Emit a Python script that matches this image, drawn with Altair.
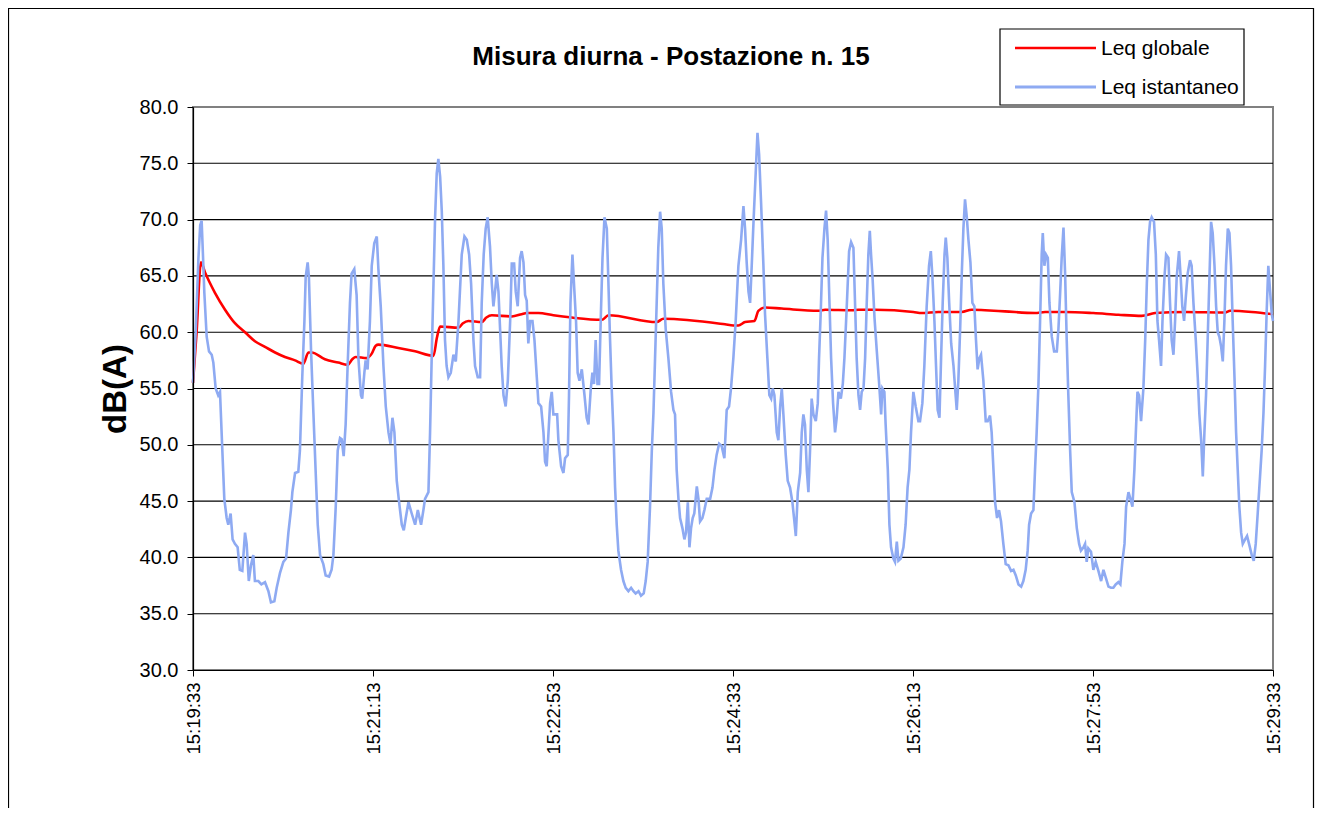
import altair as alt
import pandas as pd

TITLE = "Misura diurna - Postazione n. 15"
Y_TITLE = "dB(A)"
SERIES = ["Leq globale", "Leq istantaneo"]
COLORS = ["#ff0000", "#8eaaf2"]
X_TICKS = [0, 100, 200, 300, 400, 500, 600]
X_LABELS = ["15:19:33", "15:21:13", "15:22:53", "15:24:33", "15:26:13", "15:27:53", "15:29:33"]
Y_TICKS = [30, 35, 40, 45, 50, 55, 60, 65, 70, 75, 80]
GRID = [35, 40, 45, 50, 55, 60, 65, 70, 75]

# Leq istantaneo (seconds from 15:19:33, dB(A))
t_ist = [0, 1.5, 3, 4, 4.8, 5.5, 6.3, 7.6, 8.9, 10.4, 11.3, 12.6, 14, 15, 16.3, 17.4, 18.7, 19.6, 20.9, 22,
         23.3, 24.8, 26, 27.4, 28.9, 29.8, 31, 32.2, 33.5, 34.4, 36.3, 38, 40, 41.9, 43.3, 45.2, 46.5, 48.3, 50.2, 51.7,
         53, 54.4, 55.2, 56.7, 58.5, 59.4, 60.7, 61.9, 62.6, 63.7, 64.4, 65.6, 66.9, 68.1, 69.3, 70.6, 72.4, 73.7, 75.6, 77,
         78, 79.3, 80.4, 81.7, 82.6, 83.7, 84.8, 85.9, 87.2, 88.1, 89.6, 90.9, 91.9, 93.3, 94, 95.2, 95.9, 97, 98.3, 99.3,
         100.7, 102.1, 103, 104.3, 105.8, 107.1, 108.6, 109.7, 110.8, 111.9, 113.2, 114.5, 116, 117.1, 118.2, 119.7, 121.5, 123.4, 124.9, 126.7,
         128, 128.9, 130.8, 131.7, 132.6, 133.6, 134.5, 135.4, 136.3, 137.3, 138.2, 139.1, 140, 140.9, 141.9, 143.2, 144.7, 146, 147.5, 149.3,
         150.8, 152.1, 153.4, 154.5, 155.8, 156.7, 158.2, 159.5, 160.4, 161.5, 162.6, 163.7, 165, 166, 166.9, 167.8, 168.7, 169.7, 170.6, 171.5,
         172.5, 173.7, 174.9, 176.2, 177.1, 178.4, 179.3, 180.4, 181.7, 182.6, 183.6, 184.5, 185.4, 186.3, 187.3, 188.6, 189.7, 191, 191.9, 193.4,
         194.7, 195.6, 196.5, 197.5, 198.4, 199.3, 200.2, 201.5, 202.3, 203, 204.5, 205.8, 206.7, 208.2, 208.9, 209.7, 210.8, 211.9, 212.8, 213.7,
         214.7, 216, 217.5, 218.7, 219.7, 221, 221.9, 222.8, 223.7, 224.7, 225.6, 226.5, 227.5, 228.6, 229.9, 230.8, 231.7, 232.6, 233.6, 234.5,
         235.4, 236.3, 237.8, 239.1, 240.4, 241.9, 243.4, 244.7, 245.9, 247.5, 248.9, 250.4, 251.5, 252.6, 253.9, 254.9, 255.8, 256.7, 257.6, 258.5,
         259.5, 260.4, 261.3, 262.6, 264.1, 265.6, 266.9, 267.8, 268.7, 269.7, 270.6, 271.9, 273, 273.9, 274.9, 275.8, 276.7, 277.6, 278.5, 279.9,
         280.8, 281.7, 283, 284.1, 285.4, 287.3, 288.6, 289.7, 290.9, 292.3, 293.7, 295.2, 296.5, 297.8, 298.9, 300.2, 301.5, 303, 304.5, 305.8,
         306.7, 307.6, 308.6, 309.5, 310.4, 311.5, 312.6, 313.6, 314.5, 315.6, 316.9, 317.8, 319.1, 320.2, 321.2, 322.1, 323, 324.3, 325.2, 326.2,
         327.1, 328, 329.3, 330.4, 331.7, 333, 334.1, 334.9, 336, 337.3, 338.2, 339.1, 340, 341, 341.9, 342.8, 343.7, 344.7, 346, 347.1,
         347.8, 348.7, 349.7, 350.8, 351.7, 352.6, 353.6, 354.5, 355.6, 356.7, 357.6, 358.6, 359.9, 361, 361.9, 363.2, 364.5, 365.6, 366.9, 367.8,
         368.7, 369.7, 370.6, 371.5, 372.5, 373.4, 374.3, 375.2, 376, 376.7, 377.6, 378.6, 379.9, 381.2, 382.3, 383, 384.1, 384.8, 386, 386.9,
         387.8, 389.1, 390, 391, 391.9, 393.2, 394.7, 395.9, 397, 398, 398.9, 400.2, 401.5, 403, 403.9, 405.2, 406.3, 407.6, 408.9, 409.9,
         410.8, 411.9, 412.8, 413.7, 414.7, 415.6, 416.5, 417.5, 418.2, 419.1, 420.1, 421.2, 422.5, 423.4, 424.3, 425.2, 426.2, 427.1, 428, 428.9,
         429.9, 430.8, 431.9, 433, 434.1, 435, 435.9, 436.9, 437.8, 439.1, 440.4, 441.5, 442.8, 443.7, 444.7, 445.6, 446.7, 447.8, 448.9, 450.2,
         451.5, 453, 454.5, 455.8, 457.1, 458.6, 460.1, 461.3, 462.6, 463.7, 464.5, 465.6, 466.9, 467.8, 468.7, 469.7, 470.6, 471.5, 472.1, 473,
         473.9, 474.9, 475.8, 477.1, 478.4, 479.9, 480.8, 481.7, 482.6, 483.6, 484.5, 485.4, 486.3, 487.3, 488.2, 489.7, 491, 492.3, 493.3, 494.7,
         495.6, 496.5, 497.4, 498.9, 500.2, 501.5, 503, 504.5, 505.8, 507.1, 508.6, 510, 511.3, 512.6, 514.1, 515.2, 516.3, 517.5, 518.4, 519.7,
         520.8, 521.9, 523, 523.8, 524.7, 525.6, 526.7, 528, 529, 529.9, 530.8, 531.7, 532.6, 533.9, 534.9, 535.8, 536.7, 537.8, 538.6, 539.7,
         540.6, 541.9, 542.8, 543.7, 544.7, 545.6, 546.5, 547.8, 548.7, 549.6, 550.6, 551.5, 552.6, 553.9, 554.8, 555.8, 557.1, 558.2, 559.1, 560.1,
         561, 561.9, 562.8, 563.7, 564.7, 565.6, 566.5, 567.5, 568.4, 569.3, 570.2, 571.2, 572.1, 573, 573.9, 574.9, 575.8, 576.7, 577.6, 578.6,
         579.5, 580.4, 581.3, 582.3, 583.2, 584.5, 585.6, 586.7, 588.2, 589.3, 590.4, 591.5, 592.8, 593.7, 594.7, 595.6, 596.5, 597.4, 598.4, 599.3,
         600]
v_ist = [55.5, 60, 66.5, 69.5, 69.9, 67, 63.5, 59.6, 58.3, 58, 57.3, 55, 54.4, 54.7, 49.5, 45.2, 43.5, 42.9, 43.9, 41.6,
         41.2, 40.9, 38.9, 38.8, 42.2, 41.2, 37.9, 39.3, 40.2, 37.9, 37.9, 37.6, 37.8, 37, 36, 36.1, 37.3, 38.6, 39.6, 39.9,
         42.2, 44.2, 45.8, 47.5, 47.6, 49.5, 56, 61, 64.9, 66.2, 64.9, 58.3, 52.8, 47.8, 42.9, 40.2, 39.4, 38.4, 38.3, 38.9,
         40.2, 44.5, 49.5, 50.6, 50.5, 49, 51.8, 57, 62.6, 65.2, 65.6, 63.3, 57.7, 54.4, 54.1, 56.4, 57.5, 56.7, 61, 65.9,
         67.9, 68.5, 65.6, 62.3, 57, 53.4, 51.1, 50.1, 52.4, 51.1, 46.8, 44.9, 42.9, 42.4, 43.5, 44.9, 43.9, 42.9, 44.2, 42.9,
         44.2, 45.2, 45.8, 51.1, 57.7, 64.3, 70.2, 74.1, 75.4, 73.8, 70.8, 65.9, 59.3, 57, 56, 56.4, 58, 57.4, 61, 66.9,
         68.5, 68.2, 66.9, 64.3, 59.3, 57, 56, 56, 62.6, 66.9, 69.2, 70.2, 67.6, 64.3, 62.3, 63.6, 65.1, 63.6, 60.3, 57,
         54.4, 53.4, 55.7, 61, 66.1, 66.1, 63.6, 62.3, 66.6, 67.2, 66.2, 63.3, 62.8, 59, 61, 61, 59.3, 56, 53.7, 53.4,
         51.1, 48.5, 48.1, 51.1, 53.7, 54.7, 52.7, 52.7, 52.7, 50.4, 48.1, 47.5, 48.8, 49.1, 54.4, 62.6, 66.9, 63.6, 61, 56.4,
         55.7, 56.7, 54.4, 52.4, 51.8, 55, 56.4, 55.4, 59.3, 55.4, 55.4, 61, 66.6, 70.2, 69.2, 64.3, 59.3, 55, 51.1, 46.2,
         42.9, 40.6, 38.9, 37.9, 37.3, 37, 37.3, 37, 36.8, 37, 36.6, 36.8, 37.9, 39.6, 44.5, 49.5, 52.8, 57.7, 62.6, 67.5,
         70.7, 69.2, 64.3, 60.3, 57.7, 54.7, 53.1, 52.7, 47.8, 45.2, 43.5, 42.6, 41.6, 42.2, 44.9, 40.9, 42.6, 43.5, 43.9, 46.3,
         45.2, 43.2, 43.5, 44.2, 45.2, 45.2, 46.2, 47.8, 49.1, 50.1, 49.9, 48.8, 53.1, 53.4, 55, 57.7, 61, 65.9, 68.2, 71.2,
         69.2, 66.2, 63.6, 62.6, 65.9, 70.2, 74.1, 77.7, 75.8, 71.5, 65.9, 61.6, 57.7, 54.4, 54.1, 55, 54.4, 51.1, 50.4, 53.4,
         55, 52.7, 49.1, 46.8, 46.2, 44.9, 43.2, 41.9, 45.8, 47.5, 51.1, 52.7, 51.8, 47.8, 45.8, 49.5, 54.1, 52.7, 52.1, 53.7,
         57.7, 61.6, 66.6, 69.2, 70.8, 68.2, 62.6, 57.7, 53.7, 51.1, 52.4, 54.7, 54.1, 55.4, 57.7, 62.3, 67.2, 68, 67.5, 62.6,
         57.7, 54.4, 53.1, 54.7, 55, 57.7, 62.6, 66.9, 69, 66.9, 64.6, 61.3, 58.3, 55.4, 52.7, 55, 54.7, 51.8, 47.8, 42.9,
         40.9, 39.9, 39.6, 41.4, 39.7, 39.9, 40.9, 42.9, 46.2, 47.8, 51.1, 54.7, 53.4, 52.1, 52.1, 53.7, 57, 62.3, 65.9, 67.2,
         64.9, 61, 57, 53.1, 52.4, 57.7, 62.6, 66.9, 68.4, 66.6, 62.6, 59, 57, 55, 53.1, 55.7, 60.3, 65.2, 69.2, 71.8,
         70.2, 68.2, 66.2, 62.6, 62.3, 59.3, 56.7, 57.7, 58, 55.7, 52.1, 52.1, 52.6, 51.1, 47.8, 44.9, 43.5, 44.2, 43.2, 41.2,
         39.4, 39.3, 38.8, 38.9, 38.4, 37.6, 37.4, 37.9, 38.9, 40.6, 42.9, 43.9, 44.2, 47.8, 51.1, 55.4, 61, 66.9, 68.8, 65.9,
         66.9, 66.6, 62.6, 59.6, 58.3, 58.3, 60.3, 63.3, 66.6, 69.3, 65.2, 59.3, 54.4, 49.5, 45.8, 44.9, 42.6, 41.2, 40.6, 40.9,
         41.2, 39.6, 40.8, 40.5, 38.9, 39.6, 38.8, 37.9, 38.9, 38.2, 37.4, 37.3, 37.3, 37.6, 37.8, 37.6, 39.6, 41.2, 44.5, 45.8,
         45.2, 44.5, 47.8, 51.1, 54.7, 54.4, 52.1, 55, 59.3, 64.3, 68.2, 69.8, 70.2, 69.8, 66.9, 61, 59.3, 57, 61, 64.9,
         66.9, 66.6, 62.6, 59.3, 58, 61, 64.9, 67.2, 64.9, 62.3, 61, 63, 65.2, 66.4, 65.9, 62.6, 59.3, 56, 52.7, 50.4,
         47.2, 51.1, 54.4, 59.3, 64.9, 69.8, 68.8, 65.9, 62.3, 60, 59.6, 58.7, 57.4, 61, 65.9, 69.2, 68.8, 65.9, 61, 56,
         51.1, 47.8, 44.5, 42.2, 41.2, 41.6, 41.9, 41.2, 40.2, 39.7, 41.2, 43.9, 47.2, 49.5, 52.8, 57, 61.9, 65.9, 63.6, 61.6,
         61]

# Leq globale
t_glob = [0, 2, 4.4, 6.7, 9, 12.2, 17.8, 23.3, 28.9, 34.4, 40, 45.6, 51.1, 56.7, 61.3, 64.1, 65.9, 73.3, 80.7, 85.9, 88.5,
          90.4, 96.5, 99.3, 101.5, 103, 114.1, 123.4, 133.6, 135.5, 137.3, 147.5, 150, 153, 160.4, 163, 166, 177.1, 182.6, 185.4, 191.9,
          200.2, 210.4, 227.1, 230.8, 257.6, 261.3, 295.6, 300.2, 303, 306.7, 311.9, 314.1, 317.8, 327.1, 347.4, 351.2, 366, 369.7, 378.9, 400.2,
          404.9, 414.1, 427.1, 432.6, 440, 451.1, 467.8, 473.4, 484.5, 500.2, 514.1, 527, 534.5, 551.1, 573.4, 576.2, 588.2, 600]
v_glob = [55.5, 60, 66.2, 65.3, 64.5, 63.5, 62, 60.8, 60, 59.2, 58.7, 58.2, 57.8, 57.5, 57.2, 58.2, 58.2, 57.6, 57.3, 57.1, 57.6,
          57.8, 57.7, 58.1, 58.8, 58.9, 58.6, 58.3, 57.9, 59.5, 60.5, 60.4, 60.8, 61, 60.9, 61.3, 61.5, 61.4, 61.6, 61.7, 61.7,
          61.5, 61.3, 61.1, 61.5, 60.9, 61.2, 60.7, 60.6, 60.6, 60.9, 61, 61.9, 62.2, 62.1, 61.9, 62, 61.95, 62, 62, 61.8,
          61.7, 61.8, 61.8, 62, 61.95, 61.85, 61.7, 61.8, 61.8, 61.7, 61.55, 61.45, 61.7, 61.8, 61.75, 61.9, 61.8, 61.6]

FONT = "Liberation Sans"

ist = pd.DataFrame({"t": t_ist, "v": v_ist, "serie": SERIES[1]})
glob = pd.DataFrame({"t": t_glob, "v": v_glob, "serie": SERIES[0]})
grid_df = pd.DataFrame({"g": GRID})
one = pd.DataFrame({"k": [0]})

xscale = alt.Scale(domain=[0, 600], nice=False, zero=False)
yscale = alt.Scale(domain=[30, 80], nice=False, zero=False)

label_expr = "[" + ",".join("'%s'" % s for s in X_LABELS) + "][indexof([" + ",".join(str(v) for v in X_TICKS) + "], datum.value)]"

x_axis = alt.Axis(
    values=X_TICKS, labelExpr=label_expr, labelAngle=270, labelAlign="right", labelBaseline="middle",
    labelFont=FONT, labelFontSize=18.5, labelColor="black", labelPadding=6,
    tickSize=6, tickColor="black", domainColor="black", domainWidth=1.2, grid=False, title=None,
    labelOverlap=False, zindex=1)
y_axis = alt.Axis(
    values=Y_TICKS, format=".1f", labelFont=FONT, labelFontSize=20, labelColor="black", labelPadding=9,
    tickSize=6, tickColor="black", domainColor="black", domainWidth=1.2, grid=False, title=None,
    labelOverlap=False, zindex=1)

frame = alt.Chart(one).mark_rect(filled=False, stroke="black", strokeWidth=1.2).encode(
    x=alt.value(-184.5), x2=alt.value(1120.5), y=alt.value(-98.5), y2=alt.value(760)
)

grid = alt.Chart(grid_df).mark_rule(color="black", strokeWidth=1.1).encode(
    y=alt.Y("g:Q", scale=yscale, axis=y_axis)
)

line_glob = alt.Chart(glob).mark_line(color=COLORS[0], strokeWidth=2.6, interpolate="monotone").encode(
    x=alt.X("t:Q", scale=xscale, axis=x_axis),
    y=alt.Y("v:Q", scale=yscale, axis=y_axis),
)

line_ist = alt.Chart(ist).mark_line(color=COLORS[1], strokeWidth=2.6).encode(
    x=alt.X("t:Q", scale=xscale, axis=x_axis),
    y=alt.Y("v:Q", scale=yscale, axis=y_axis),
)

title = alt.Chart(one).mark_text(font=FONT, fontSize=26, fontWeight="bold", color="black",
                                 align="center", baseline="middle").encode(
    x=alt.value(478), y=alt.value(-50), text=alt.value(TITLE))

ytitle = alt.Chart(one).mark_text(font=FONT, fontSize=33, fontWeight="bold", color="black",
                                  align="center", baseline="middle", angle=270).encode(
    x=alt.value(-77), y=alt.value(282), text=alt.value(Y_TITLE))

leg_box = alt.Chart(one).mark_rect(fill="white", stroke="black", strokeWidth=1.2).encode(
    x=alt.value(807), x2=alt.value(1051), y=alt.value(-78), y2=alt.value(-2))
leg_r = alt.Chart(one).mark_rule(color=COLORS[0], strokeWidth=2.6).encode(
    x=alt.value(822), x2=alt.value(903), y=alt.value(-59))
leg_b = alt.Chart(one).mark_rule(color=COLORS[1], strokeWidth=3).encode(
    x=alt.value(822), x2=alt.value(903), y=alt.value(-20))
leg_t1 = alt.Chart(one).mark_text(font=FONT, fontSize=21, color="black", align="left", baseline="middle").encode(
    x=alt.value(908), y=alt.value(-58), text=alt.value(SERIES[0]))
leg_t2 = alt.Chart(one).mark_text(font=FONT, fontSize=21, color="black", align="left", baseline="middle").encode(
    x=alt.value(908), y=alt.value(-19), text=alt.value(SERIES[1]))

chart = alt.layer(
    frame, grid, line_glob, line_ist, title, ytitle, leg_box, leg_r, leg_b, leg_t1, leg_t2
).properties(
    width=1080, height=563,
    autosize=alt.AutoSizeParams(type="none"),
    padding={"left": 185, "top": 99, "right": 44, "bottom": 138},
).configure_view(stroke="#808080", strokeWidth=2)

chart.save("out.html", embed_options={"renderer": "svg", "actions": False})
